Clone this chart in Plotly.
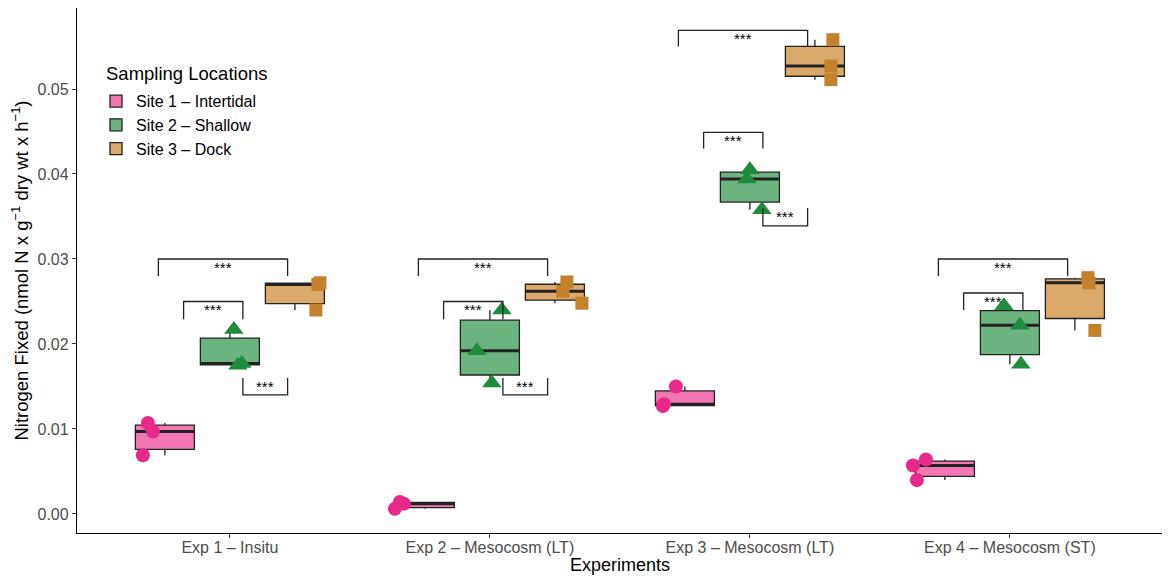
import numpy as np
import plotly.graph_objects as go

# ---------------- data ----------------
experiments = ["Exp 1 – Insitu", "Exp 2 – Mesocosm (LT)", "Exp 3 – Mesocosm (LT)", "Exp 4 – Mesocosm (ST)"]
sites = ["Site 1 – Intertidal", "Site 2 – Shallow", "Site 3 – Dock"]

site1_values = [[0.0069, 0.0097, 0.0107], [0.0006, 0.0012, 0.0014],
                [0.0127, 0.0129, 0.0150], [0.0040, 0.0057, 0.0064]]
site2_values = [[0.0175, 0.0177, 0.0217], [0.0154, 0.0192, 0.0240],
                [0.0358, 0.0394, 0.0405], [0.0176, 0.0222, 0.0245]]
site3_values = [[0.0240, 0.0270, 0.0272], [0.0248, 0.0262, 0.0273],
                [0.0511, 0.0527, 0.0558], [0.0216, 0.0272, 0.0278]]

# significance brackets: (experiment index, bracket kind, line level, leg end level)
bracket_exp = [0, 0, 0, 1, 1, 1, 2, 2, 2, 3, 3]
bracket_kind = ["top", "mid", "low", "top", "mid", "low", "top", "mid", "low", "top", "mid"]
bracket_line = [0.0300, 0.0250, 0.0140, 0.0300, 0.0250, 0.0140, 0.0569, 0.0449, 0.0339, 0.0300, 0.0260]
bracket_leg = [0.0280, 0.0229, 0.0160, 0.0280, 0.0229, 0.0160, 0.0550, 0.0430, 0.0360, 0.0280, 0.0240]
bracket_label = "***"

x_title = "Experiments"
y_title = "Nitrogen Fixed (nmol N x g<sup>−1</sup> dry wt x h<sup>−1</sup>)"
legend_title = "Sampling Locations"

# ---------------- styling / positions ----------------
site_values = [site1_values, site2_values, site3_values]
box_offset = [-0.25, 0.0, 0.25]
box_width = 0.227
fill_colors = ["#F277B2", "#6BB480", "#DBAA6B"]
point_colors = ["#E7298A", "#1E8B3E", "#C4812B"]
symbols = ["circle", "triangle-up", "square"]
sizes = [14, 17, 13]
# horizontal jitter (pixels) for each point, per site / experiment
jitter_px = [
    [[-22, -12, -17], [-30, -21, -25], [-22, -21, -9], [-28, -32, -19]],
    [[8, 12, 4], [2, -13, 12], [12, -3, 0], [11, 10, -6]],
    [[21, 23, 25], [27, 8, 12], [16, 16, 18], [20, 14, 13]],
]
px_per_unit = 260.0
bracket_x = {"top": (-0.275, 0.222), "mid": (-0.178, 0.05), "low": (0.05, 0.222)}

FONT = "Liberation Sans, Arial, sans-serif"

fig = go.Figure()

# boxes
for s in range(3):
    xs, ys = [], []
    for e in range(4):
        for v in site_values[s][e]:
            xs.append(e + box_offset[s])
            ys.append(v)
    fig.add_trace(go.Box(
        x=xs, y=ys, name=sites[s], width=box_width,
        fillcolor=fill_colors[s], line=dict(color="#222222", width=1.3),
        boxpoints=False, quartilemethod="linear", whiskerwidth=0,
        showlegend=True, legendgroup=sites[s],
    ))

# thick median lines
for s in range(3):
    mx, my = [], []
    for e in range(4):
        med = float(np.median(site_values[s][e]))
        c = e + box_offset[s]
        mx += [c - box_width / 2, c + box_width / 2, None]
        my += [med, med, None]
    fig.add_trace(go.Scatter(x=mx, y=my, mode="lines", line=dict(color="#222222", width=3),
                             showlegend=False, hoverinfo="skip"))

# points
for s in range(3):
    px_, py_ = [], []
    for e in range(4):
        for v, j in zip(site_values[s][e], jitter_px[s][e]):
            px_.append(e + box_offset[s] + j / px_per_unit)
            py_.append(v)
    fig.add_trace(go.Scatter(
        x=px_, y=py_, mode="markers", showlegend=False, legendgroup=sites[s],
        marker=dict(symbol=symbols[s], size=sizes[s], color=point_colors[s],
                    line=dict(width=0)),
    ))

# brackets
bx, by = [], []
for e, k, yl, yg in zip(bracket_exp, bracket_kind, bracket_line, bracket_leg):
    x0, x1 = e + bracket_x[k][0], e + bracket_x[k][1]
    bx += [x0, x0, x1, x1, None]
    by += [yg, yl, yl, yg, None]
    fig.add_annotation(x=(x0 + x1) / 2, y=max(yl, yg), text=bracket_label, showarrow=False,
                       yanchor="top", yshift=2, font=dict(family=FONT, size=15, color="black"))
fig.add_trace(go.Scatter(x=bx, y=by, mode="lines", line=dict(color="#222222", width=1.3),
                         showlegend=False, hoverinfo="skip"))

# x axis title (sits between tick labels, as in the reference)
fig.add_annotation(xref="paper", yref="paper", x=0.5, y=-0.061, yanchor="middle",
                   text=x_title, showarrow=False, font=dict(family=FONT, size=18, color="black"))

# legend title
fig.add_annotation(xref="paper", yref="paper", x=0.0249, y=0.876, xanchor="left", yanchor="middle",
                   text=legend_title, showarrow=False, font=dict(family=FONT, size=18.5, color="black"))

fig.update_layout(
    width=1154, height=567,
    margin=dict(l=69, r=0, t=0, b=42),
    paper_bgcolor="white", plot_bgcolor="white",
    font=dict(family=FONT, color="black"),
    boxmode="overlay",
    legend=dict(
        x=0.0175, y=0.855, xanchor="left", yanchor="top",
        font=dict(size=16, color="black"), bgcolor="rgba(0,0,0,0)",
        tracegroupgap=0, itemwidth=30,
    ),
    xaxis=dict(
        range=[-0.588, 3.585], tickvals=[0, 1, 2, 3], ticktext=experiments,
        showgrid=False, zeroline=False, showline=True, linecolor="black", linewidth=1.3,
        ticks="outside", tickcolor="#333333", ticklen=4, tickwidth=1,
        tickfont=dict(size=16, color="#4D4D4D"), automargin=False, ticklabelstandoff=-4,
    ),
    yaxis=dict(
        range=[-0.00224, 0.05953], tickvals=[0, 0.01, 0.02, 0.03, 0.04, 0.05], tickformat=".2f",
        showgrid=False, zeroline=False, showline=True, linecolor="black", linewidth=1.3,
        ticks="outside", tickcolor="#333333", ticklen=4, tickwidth=1,
        tickfont=dict(size=16, color="#4D4D4D"), automargin=False,
        title=dict(text=y_title, font=dict(size=18.5, color="black"), standoff=6),
    ),
)

fig.write_html("out.html")
